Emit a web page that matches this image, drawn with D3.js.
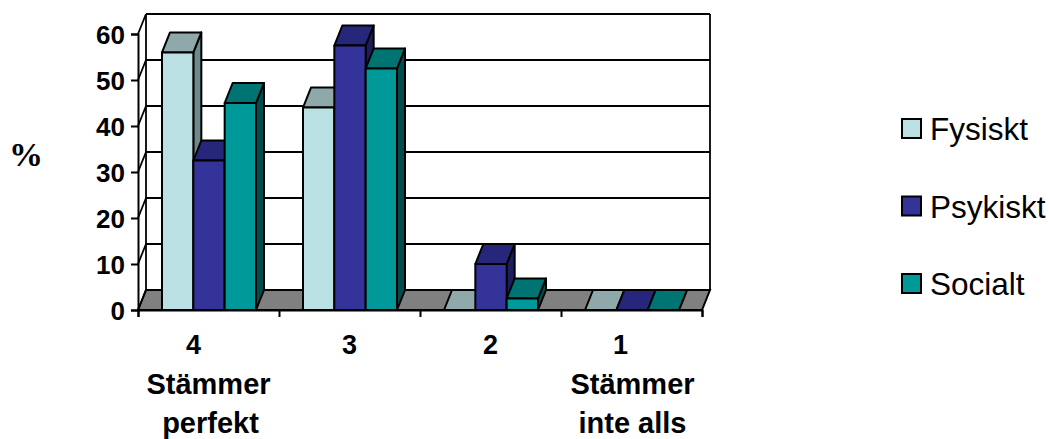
<!DOCTYPE html>
<html>
<head>
<meta charset="utf-8">
<script src="https://cdn.jsdelivr.net/npm/d3@7"></script>
<style>
  html, body { margin: 0; padding: 0; background: #fff; }
  svg { display: block; }
  text { font-family: "Liberation Sans", Arial, sans-serif; fill: #000; }
</style>
</head>
<body>
<svg></svg>
<script>
var categories = ["4", "3", "2", "1"];
var categoryLines = [["Stämmer", "perfekt"], [], [], ["Stämmer", "inte alls"]];
var seriesNames = ["Fysiskt", "Psykiskt", "Socialt"];
var fysiskt = [56, 44, 0, 0];
var psykiskt = [32.5, 57.5, 10, 0];
var socialt = [45, 52.5, 2.5, 0];
var yTicks = [0, 10, 20, 30, 40, 50, 60];

function init() {
    var w = 1050, h = 439;
    var left = 138, right = 702, bottom = 310, top = 34;
    var depthX = 8, depthY = 20;   // 3d offset of the back wall

    var front = ["#BBE0E3", "#333399", "#009999"];
    var roof = ["#8FA9AB", "#26267A", "#007373"];
    var side = ["#6F8A8A", "#1E1E5E", "#004D4D"];
    var values = [fysiskt, psykiskt, socialt];

    var svg = d3.select("svg").attr("width", w).attr("height", h);

    var y = d3.scaleLinear().domain([0, 60]).range([bottom, top]);
    var x = d3.scaleBand().domain(categories).range([left, right]);
    var inner = d3.scaleBand().domain(d3.range(3)).range([24, x.bandwidth() - 23]);
    var edge = d3.scaleLinear().domain([0, 4]).range([left, right]);

    function poly(points) {
        return "M" + points.map(function(p) { return p.join(","); }).join("L") + "Z";
    }

    // floor
    svg.append("path")
        .attr("d", poly([[left, bottom], [left + depthX, bottom - depthY],
                         [right + depthX, bottom - depthY], [right, bottom]]))
        .attr("fill", "#808080").attr("stroke", "#000").attr("stroke-width", 2);

    // back wall grid
    svg.selectAll("line.grid")
        .data(yTicks)
        .enter()
        .append("line")
        .attr("class", "grid")
        .attr("x1", left + depthX).attr("x2", right + depthX)
        .attr("y1", function(d) { return y(d) - depthY; })
        .attr("y2", function(d) { return y(d) - depthY; })
        .attr("stroke", "#000").attr("stroke-width", 1.8);

    // left wall diagonals
    svg.selectAll("line.diag")
        .data(yTicks)
        .enter()
        .append("line")
        .attr("class", "diag")
        .attr("x1", left).attr("x2", left + depthX)
        .attr("y1", function(d) { return y(d); })
        .attr("y2", function(d) { return y(d) - depthY; })
        .attr("stroke", "#000").attr("stroke-width", 1.8);

    svg.append("line")
        .attr("x1", left + depthX).attr("x2", left + depthX)
        .attr("y1", y(60) - depthY).attr("y2", y(0) - depthY)
        .attr("stroke", "#000").attr("stroke-width", 1.8);
    svg.append("line")
        .attr("x1", right + depthX).attr("x2", right + depthX)
        .attr("y1", y(60) - depthY).attr("y2", y(0) - depthY)
        .attr("stroke", "#000").attr("stroke-width", 1.8);

    // bars
    var barW = inner.bandwidth();
    var bars = svg.selectAll("g.bar")
        .data(d3.merge(categories.map(function(c, i) {
            return values.map(function(s, j) { return { cat: c, s: j, v: s[i] }; });
        })))
        .enter()
        .append("g")
        .attr("class", "bar");

    bars.each(function(d) {
        var g = d3.select(this);
        var x0 = x(d.cat) + inner(d.s), x1 = x0 + barW;
        var y0 = y(d.v), yb = y(0);
        g.append("path")
            .attr("d", poly([[x1, y0], [x1 + depthX, y0 - depthY], [x1 + depthX, yb - depthY], [x1, yb]]))
            .attr("fill", side[d.s]);
        g.append("path")
            .attr("d", poly([[x0, y0], [x0 + depthX, y0 - depthY], [x1 + depthX, y0 - depthY], [x1, y0]]))
            .attr("fill", roof[d.s]);
        if (d.v > 0) {
            g.append("rect")
                .attr("x", x0).attr("y", y0)
                .attr("width", barW).attr("height", yb - y0)
                .attr("fill", front[d.s]);
        }
        g.selectAll("path, rect")
            .attr("stroke", "#000").attr("stroke-width", 2).attr("stroke-linejoin", "round");
    });

    // axes
    var yAxis = d3.axisLeft(y).tickValues(yTicks).tickSize(7).tickPadding(6);
    var gy = svg.append("g").attr("transform", "translate(" + left + ",0)").call(yAxis);
    gy.selectAll("text").style("font-size", "26px").style("font-weight", "bold")
        .attr("dy", "0.36em");

    var xAxis = d3.axisBottom(edge).tickValues(d3.range(5)).tickSize(7).tickFormat("");
    var gx = svg.append("g").attr("transform", "translate(0," + bottom + ")").call(xAxis);
    svg.selectAll(".domain").attr("stroke-width", 2);
    svg.selectAll(".tick line").attr("stroke", "#000").attr("stroke-width", 2);

    // category labels
    var nudge = [-15, 0, 0, -11];
    svg.selectAll("text.cat")
        .data(categories)
        .enter()
        .append("text")
        .attr("class", "cat")
        .attr("x", function(d, i) { return x(d) + x.bandwidth() / 2 + nudge[i]; })
        .attr("y", 353.5)
        .attr("text-anchor", "middle")
        .style("font-size", "27px").style("font-weight", "bold")
        .text(function(d) { return d; });

    categories.forEach(function(c, i) {
        categoryLines[i].forEach(function(line, k) {
            svg.append("text")
                .attr("x", x(c) + x.bandwidth() / 2 + (i == 3 ? 1 : 0) + (k == 1 && i == 0 ? 2 : 0))
                .attr("y", 394 + k * 39)
                .attr("text-anchor", "middle")
                .style("font-size", "29px").style("font-weight", "bold")
                .text(line);
        });
    });

    // y title
    svg.append("text")
        .attr("x", 26).attr("y", 166)
        .attr("text-anchor", "middle")
        .style("font-family", "'Liberation Serif', serif")
        .style("font-size", "34px").style("font-weight", "bold")
        .text("%");

    // legend
    var legend = svg.selectAll("g.legend")
        .data(seriesNames)
        .enter()
        .append("g")
        .attr("class", "legend")
        .attr("transform", function(d, i) { return "translate(902," + (119 + i * 77.5) + ")"; });

    legend.append("rect")
        .attr("width", 19).attr("height", 19)
        .attr("fill", function(d, i) { return front[i]; })
        .attr("stroke", "#000").attr("stroke-width", 2);

    legend.append("text")
        .attr("x", 28).attr("y", 21)
        .style("font-size", "31.5px")
        .text(function(d) { return d; });
}
window.onload = init;
</script>
</body>
</html>
